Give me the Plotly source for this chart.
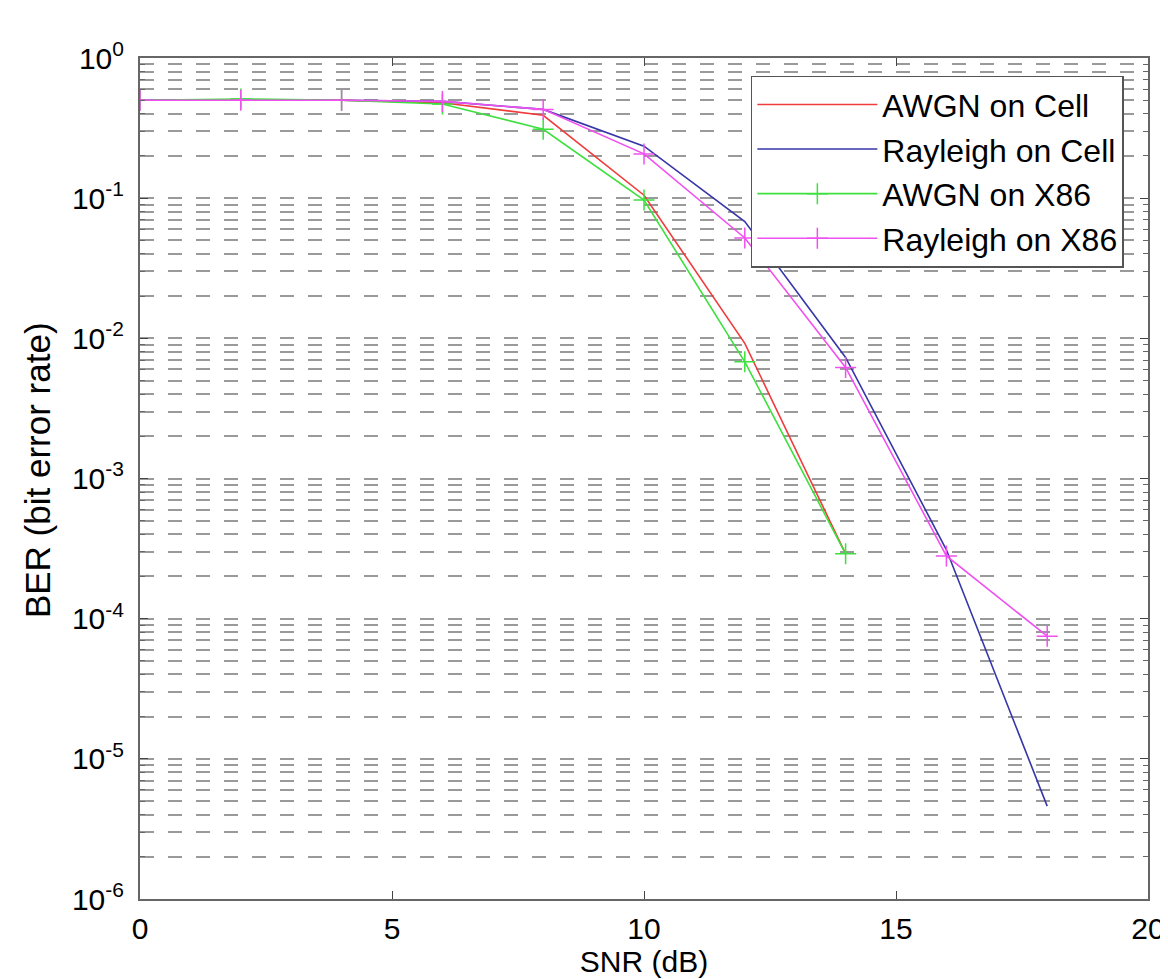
import plotly.graph_objects as go

# ---- data ----
snr_short = [0, 2, 4, 6, 8, 10, 12, 14]
snr_long = [0, 2, 4, 6, 8, 10, 12, 14, 16, 18]

awgn_cell = [0.5, 0.5, 0.5, 0.48, 0.39, 0.105, 0.0092, 2.9e-4]
rayleigh_cell = [0.5, 0.5, 0.5, 0.49, 0.43, 0.235, 0.068, 0.0073, 3.1e-4, 4.6e-6]
awgn_x86 = [0.5, 0.51, 0.5, 0.47, 0.31, 0.097, 0.0068, 2.9e-4]
rayleigh_x86 = [0.5, 0.5, 0.5, 0.49, 0.43, 0.207, 0.052, 0.0062, 2.8e-4, 7.5e-5]

series_names = ["AWGN on Cell", "Rayleigh on Cell", "AWGN on X86", "Rayleigh on X86"]
series_colors = ["#f03c3c", "#3636a8", "#3ee03e", "#f050f0"]

x_ticks = [0, 5, 10, 15, 20]
y_tick_vals = [1e-6, 1e-5, 1e-4, 1e-3, 1e-2, 1e-1, 1]
y_tick_text = ["10<sup>-6</sup>", "10<sup>-5</sup>", "10<sup>-4</sup>", "10<sup>-3</sup>",
               "10<sup>-2</sup>", "10<sup>-1</sup>", "10<sup>0</sup>"]

FONT = "Liberation Sans, Arial, sans-serif"
GRID = "#9a9a9a"

fig = go.Figure()
fig.add_trace(go.Scatter(x=snr_short, y=awgn_cell, name=series_names[0], mode="lines",
                         line=dict(color=series_colors[0], width=1.6)))
fig.add_trace(go.Scatter(x=snr_long, y=rayleigh_cell, name=series_names[1], mode="lines",
                         line=dict(color=series_colors[1], width=1.6)))
fig.add_trace(go.Scatter(x=snr_short, y=awgn_x86, name=series_names[2], mode="lines+markers",
                         line=dict(color=series_colors[2], width=1.6),
                         marker=dict(symbol="cross-thin", size=15,
                                     line=dict(color=series_colors[2], width=1.5))))
fig.add_trace(go.Scatter(x=snr_long, y=rayleigh_x86, name=series_names[3], mode="lines+markers",
                         line=dict(color=series_colors[3], width=1.6),
                         marker=dict(symbol="cross-thin", size=15,
                                     line=dict(color=series_colors[3], width=1.5))))

fig.update_layout(
    width=1168, height=979,
    margin=dict(l=132, r=28, t=50, b=88),
    paper_bgcolor="white", plot_bgcolor="white",
    font=dict(family=FONT, size=30, color="black"),
    showlegend=True,
    legend=dict(
        x=0.606, y=0.979, xanchor="left", yanchor="top",
        bgcolor="white", bordercolor="#555555", borderwidth=1.5,
        font=dict(family=FONT, size=32, color="black"),
        itemwidth=120,
    ),
    xaxis=dict(
        range=[0, 20], tickvals=x_ticks, ticktext=[str(v) for v in x_ticks],
        showgrid=False, zeroline=False,
        showline=True, mirror="allticks", linecolor="#666666", linewidth=2,
        ticks="inside", ticklen=8, tickcolor="#444444", tickwidth=1,
        tickfont=dict(family=FONT, size=30, color="black"),
        ticklabelstandoff=2,
        title=dict(text="SNR (dB)", font=dict(family=FONT, size=30, color="black"), standoff=2),
    ),
    yaxis=dict(
        type="log", range=[-6, 0],
        tickmode="array", tickvals=y_tick_vals, ticktext=y_tick_text,
        showgrid=True, gridcolor=GRID, gridwidth=1.5, griddash="14px,14px",
        zeroline=False,
        showline=True, mirror="allticks", linecolor="#666666", linewidth=2,
        ticks="inside", ticklen=8, tickcolor="#444444", tickwidth=1,
        tickfont=dict(family=FONT, size=30, color="black"),
        ticklabelstandoff=8,
        minor=dict(dtick="D1", showgrid=True, gridcolor=GRID, gridwidth=1.5,
                   griddash="14px,14px", ticks="inside", ticklen=5,
                   tickcolor="#666666"),
    ),
    annotations=[
        dict(text="BER (bit error rate)", xref="paper", yref="paper",
             x=-0.1022, y=0.510, xanchor="center", yanchor="middle",
             textangle=-90, showarrow=False,
             font=dict(family=FONT, size=35, color="black")),
    ],
)

fig.write_html("out.html")
